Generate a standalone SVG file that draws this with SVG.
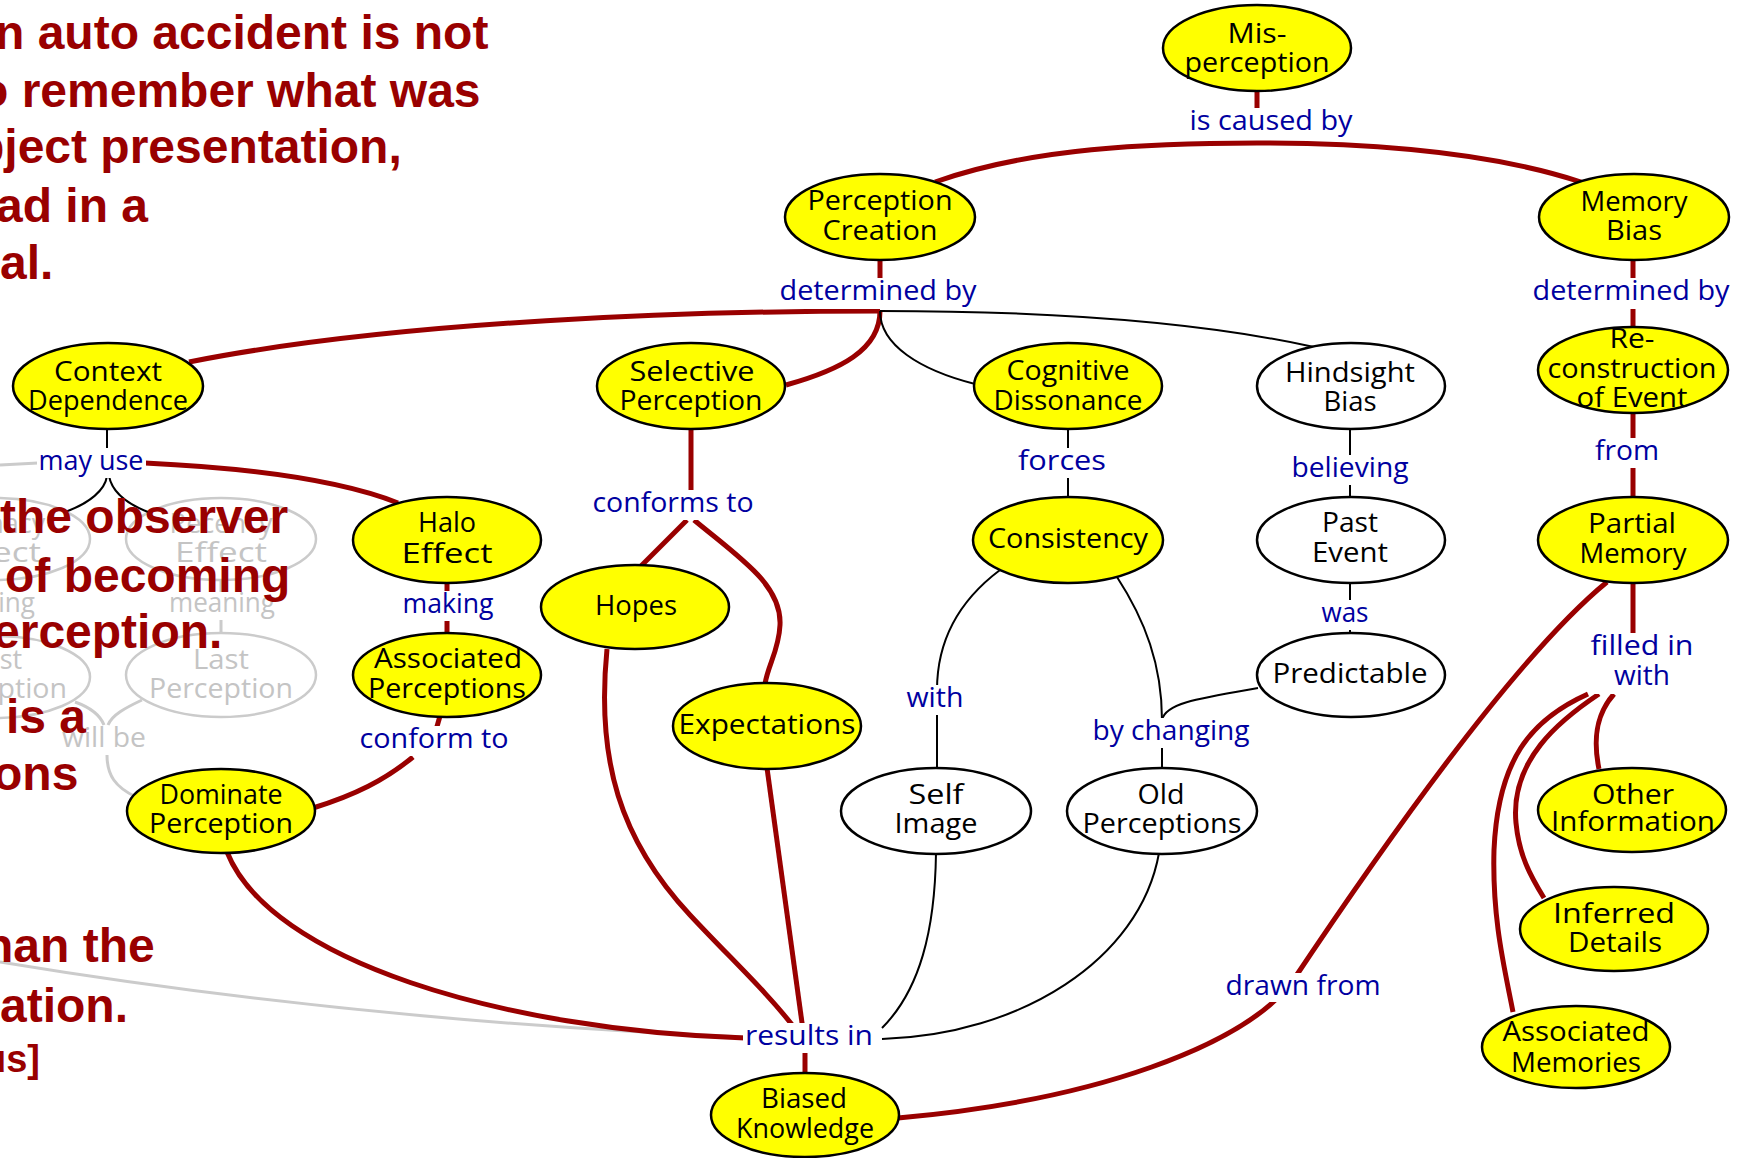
<svg xmlns="http://www.w3.org/2000/svg" width="1739" height="1158" viewBox="0 0 1739 1158">
<style>
.ny{fill:#ffff00;stroke:#000;stroke-width:2.5}
.nw{fill:#fff;stroke:#000;stroke-width:2.5}
.ng{fill:#fff;stroke:#cbcbcb;stroke-width:2.5}
.nt{font-family:'Open Sans','DejaVu Sans',sans-serif;font-size:27px;fill:#000;text-anchor:middle}
.gt{font-family:'Open Sans','DejaVu Sans',sans-serif;font-size:27px;fill:#c4c4c4;text-anchor:middle}
.lt{font-family:'Open Sans','DejaVu Sans',sans-serif;font-size:27px;fill:#0000a0;text-anchor:middle}
.lb{fill:#fff}
.r{fill:none;stroke:#990000;stroke-width:5}
.k{fill:none;stroke:#000;stroke-width:2}
.gl{fill:none;stroke:#cbcbcb;stroke-width:3}
.big{font-family:'Liberation Sans',Arial,sans-serif;font-weight:bold;font-size:48px;fill:#990000}
</style>

<!-- ghost (faded) part of map -->
<g id="ghost">
  <path class="gl" d="M0,465 L38,463"/>
  <path class="gl" d="M0,962 C200,995 450,1025 745,1037"/>
  <path class="gl" d="M-5,580 L-5,633 M221,580 L221,633"/>
  <path class="gl" d="M75,702 C92,708 100,715 104,725 M142,700 C125,708 112,715 108,725"/>
  <path class="gl" d="M107,755 C107,775 115,787 136,797"/>
  <g id="ghost-primacy"><ellipse class="ng" cx="-5" cy="539" rx="95" ry="41"/><text class="gt" x="-5" y="533">Primacy</text><text class="gt" x="-5" y="562" textLength="92" lengthAdjust="spacingAndGlyphs">Effect</text></g>
  <g id="ghost-recency"><ellipse class="ng" cx="221" cy="539" rx="95" ry="41"/><text class="gt" x="221" y="533">Recency</text><text class="gt" x="221" y="562" textLength="92" lengthAdjust="spacingAndGlyphs">Effect</text></g>
  <g id="ghost-first"><ellipse class="ng" cx="-5" cy="677" rx="95" ry="41"/><text class="gt" x="-5" y="669">First</text><text class="gt" x="-5" y="698" textLength="144" lengthAdjust="spacingAndGlyphs">Perception</text></g>
  <g id="ghost-last"><ellipse class="ng" cx="221" cy="675" rx="95" ry="42"/><text class="gt" x="221" y="669" textLength="56" lengthAdjust="spacingAndGlyphs">Last</text><text class="gt" x="221" y="698" textLength="144" lengthAdjust="spacingAndGlyphs">Perception</text></g>
  <rect class="lb" x="167" y="592" width="110" height="28"/>
  <text class="gt" x="222" y="612" textLength="106" lengthAdjust="spacingAndGlyphs">meaning</text>
  <rect class="lb" x="-73" y="592" width="110" height="28"/>
  <text class="gt" x="-18" y="612" textLength="106" lengthAdjust="spacingAndGlyphs">meaning</text>
  <text class="gt" x="104" y="747" textLength="84" lengthAdjust="spacingAndGlyphs">will be</text>
</g>

<!-- connectors -->
<g id="connectors">
  <path class="r" d="M1257,91 L1257,110"/>
  <path class="r" d="M935,182 C1030,148 1150,143 1257,143 C1370,143 1490,152 1581,182"/>
  <path class="r" d="M880,258 L880,290"/>
  <path class="r" d="M880,311 C700,311 400,320 189,362"/>
  <path class="r" d="M880,311 C880,350 840,370 786,385"/>
  <path class="k" d="M880,311 C880,345 920,370 975,384"/>
  <path class="k" d="M880,311 C1050,311 1200,322 1314,347"/>
  <path class="r" d="M1633,258 L1633,330"/>
  <path class="r" d="M1633,411 L1633,499"/>
  <path class="r" d="M1633,581 L1633,640"/>
  <path class="r" d="M1614,694 C1598,712 1592,735 1599,769"/>
  <path class="r" d="M1599,694 C1560,720 1510,760 1516,823 C1519,855 1530,875 1544,898"/>
  <path class="r" d="M1588,694 C1530,720 1498,760 1494,850 C1492,920 1505,970 1513,1012"/>
  <path class="r" d="M1607,582 C1530,645 1420,790 1290,985 C1240,1045 1100,1100 898,1118"/>
  <path class="k" d="M107,428 L107,450"/>
  <path class="r" d="M145,463 C250,468 340,480 398,503"/>
  <path class="k" d="M107,476 C105,490 90,503 65,512"/>
  <path class="k" d="M109,476 C112,492 125,503 148,512"/>
  <path class="r" d="M691,428 L691,495"/>
  <path class="r" d="M687,520 L641,566"/>
  <path class="r" d="M694,520 C740,558 782,585 780,625 C779,650 768,665 765,684"/>
  <path class="r" d="M447,582 L447,634"/>
  <path class="r" d="M440,716 L436,730"/>
  <path class="r" d="M413,757 C385,780 355,795 313,808"/>
  <path class="r" d="M227,852 C270,960 500,1030 745,1038"/>
  <path class="r" d="M607,649 C596,760 620,840 690,915 C730,958 770,995 796,1030"/>
  <path class="r" d="M767,768 L803,1030"/>
  <path class="r" d="M805,1045 L805,1074"/>
  <path class="k" d="M1068,428 L1068,498"/>
  <path class="k" d="M1000,570 C960,600 937,640 937,690 L937,769"/>
  <path class="k" d="M1117,577 C1145,620 1162,665 1162,720 L1162,769"/>
  <path class="k" d="M1258,688 C1200,698 1165,703 1162,720"/>
  <path class="k" d="M1350,428 L1350,498"/>
  <path class="k" d="M1350,582 L1350,634"/>
  <path class="k" d="M936,853 C935,930 920,990 882,1028"/>
  <path class="k" d="M1159,853 C1140,960 1020,1035 882,1039"/>
</g>

<!-- link labels -->
<g id="labels">
  <rect class="lb" x="1188" y="108" width="167" height="31"/>
  <text class="lt" x="1271" y="130" textLength="163" lengthAdjust="spacingAndGlyphs">is caused by</text>
  <rect class="lb" x="778" y="278" width="201" height="31"/>
  <text class="lt" x="878" y="300" textLength="197" lengthAdjust="spacingAndGlyphs">determined by</text>
  <rect class="lb" x="1531" y="278" width="201" height="31"/>
  <text class="lt" x="1631" y="300" textLength="197" lengthAdjust="spacingAndGlyphs">determined by</text>
  <rect class="lb" x="37" y="448" width="109" height="30"/>
  <text class="lt" x="91" y="470" textLength="105" lengthAdjust="spacingAndGlyphs">may use</text>
  <rect class="lb" x="591" y="490" width="165" height="30"/>
  <text class="lt" x="673" y="512" textLength="161" lengthAdjust="spacingAndGlyphs">conforms to</text>
  <rect class="lb" x="1016" y="448" width="92" height="30"/>
  <text class="lt" x="1062" y="470" textLength="88" lengthAdjust="spacingAndGlyphs">forces</text>
  <rect class="lb" x="1290" y="455" width="121" height="30"/>
  <text class="lt" x="1350" y="477" textLength="117" lengthAdjust="spacingAndGlyphs">believing</text>
  <rect class="lb" x="1593" y="438" width="68" height="30"/>
  <text class="lt" x="1627" y="460" textLength="64" lengthAdjust="spacingAndGlyphs">from</text>
  <rect class="lb" x="401" y="591" width="95" height="30"/>
  <text class="lt" x="448" y="613" textLength="91" lengthAdjust="spacingAndGlyphs">making</text>
  <rect class="lb" x="1320" y="600" width="51" height="30"/>
  <text class="lt" x="1345" y="622" textLength="47" lengthAdjust="spacingAndGlyphs">was</text>
  <rect class="lb" x="1589" y="633" width="107" height="61"/>
  <text class="lt" x="1642" y="655" textLength="103" lengthAdjust="spacingAndGlyphs">filled in</text>
  <text class="lt" x="1642" y="685" textLength="56" lengthAdjust="spacingAndGlyphs">with</text>
  <rect class="lb" x="905" y="685" width="61" height="30"/>
  <text class="lt" x="935" y="707" textLength="57" lengthAdjust="spacingAndGlyphs">with</text>
  <rect class="lb" x="1091" y="718" width="161" height="30"/>
  <text class="lt" x="1171" y="740" textLength="157" lengthAdjust="spacingAndGlyphs">by changing</text>
  <rect class="lb" x="358" y="726" width="153" height="30"/>
  <text class="lt" x="434" y="748" textLength="149" lengthAdjust="spacingAndGlyphs">conform to</text>
  <rect class="lb" x="1224" y="973" width="159" height="29"/>
  <text class="lt" x="1303" y="995" textLength="155" lengthAdjust="spacingAndGlyphs">drawn from</text>
  <rect class="lb" x="743" y="1023" width="132" height="30"/>
  <text class="lt" x="809" y="1045" textLength="128" lengthAdjust="spacingAndGlyphs">results in</text>
</g>

<!-- nodes -->
<g id="misperception"><ellipse class="ny" cx="1257" cy="48" rx="94" ry="43"/><text class="nt" x="1257" y="43" textLength="59" lengthAdjust="spacingAndGlyphs">Mis-</text><text class="nt" x="1257" y="72" textLength="145" lengthAdjust="spacingAndGlyphs">perception</text></g>
<g id="perception-creation"><ellipse class="ny" cx="880" cy="217" rx="95" ry="43"/><text class="nt" x="880" y="210" textLength="145" lengthAdjust="spacingAndGlyphs">Perception</text><text class="nt" x="880" y="240" textLength="115" lengthAdjust="spacingAndGlyphs">Creation</text></g>
<g id="memory-bias"><ellipse class="ny" cx="1634" cy="217" rx="95" ry="43"/><text class="nt" x="1634" y="211" textLength="107" lengthAdjust="spacingAndGlyphs">Memory</text><text class="nt" x="1634" y="240" textLength="56" lengthAdjust="spacingAndGlyphs">Bias</text></g>
<g id="context-dependence"><ellipse class="ny" cx="108" cy="386" rx="95" ry="43"/><text class="nt" x="108" y="381" textLength="108" lengthAdjust="spacingAndGlyphs">Context</text><text class="nt" x="108" y="410" textLength="160" lengthAdjust="spacingAndGlyphs">Dependence</text></g>
<g id="selective-perception"><ellipse class="ny" cx="691" cy="386" rx="94" ry="43"/><text class="nt" x="692" y="381" textLength="125" lengthAdjust="spacingAndGlyphs">Selective</text><text class="nt" x="691" y="410" textLength="143" lengthAdjust="spacingAndGlyphs">Perception</text></g>
<g id="cognitive-dissonance"><ellipse class="ny" cx="1068" cy="386" rx="94" ry="43"/><text class="nt" x="1068" y="380" textLength="123" lengthAdjust="spacingAndGlyphs">Cognitive</text><text class="nt" x="1068" y="410" textLength="149" lengthAdjust="spacingAndGlyphs">Dissonance</text></g>
<g id="hindsight-bias"><ellipse class="nw" cx="1351" cy="386" rx="94" ry="43"/><text class="nt" x="1350" y="382" textLength="130" lengthAdjust="spacingAndGlyphs">Hindsight</text><text class="nt" x="1350" y="411" textLength="53" lengthAdjust="spacingAndGlyphs">Bias</text></g>
<g id="reconstruction-of-event"><ellipse class="ny" cx="1633" cy="370" rx="95" ry="43"/><text class="nt" x="1632" y="348" textLength="45" lengthAdjust="spacingAndGlyphs">Re-</text><text class="nt" x="1632" y="378" textLength="169" lengthAdjust="spacingAndGlyphs">construction</text><text class="nt" x="1632" y="407" textLength="111" lengthAdjust="spacingAndGlyphs">of Event</text></g>
<g id="halo-effect"><ellipse class="ny" cx="447" cy="540" rx="94" ry="43"/><text class="nt" x="447" y="532" textLength="58" lengthAdjust="spacingAndGlyphs">Halo</text><text class="nt" x="447" y="563" textLength="91" lengthAdjust="spacingAndGlyphs">Effect</text></g>
<g id="associated-perceptions"><ellipse class="ny" cx="447" cy="675" rx="94" ry="42"/><text class="nt" x="448" y="668" textLength="148" lengthAdjust="spacingAndGlyphs">Associated</text><text class="nt" x="447" y="698" textLength="158" lengthAdjust="spacingAndGlyphs">Perceptions</text></g>
<g id="hopes"><ellipse class="ny" cx="635" cy="607" rx="94" ry="42"/><text class="nt" x="636" y="615" textLength="82" lengthAdjust="spacingAndGlyphs">Hopes</text></g>
<g id="expectations"><ellipse class="ny" cx="767" cy="726" rx="94" ry="43"/><text class="nt" x="767" y="734" textLength="177" lengthAdjust="spacingAndGlyphs">Expectations</text></g>
<g id="consistency"><ellipse class="ny" cx="1068" cy="540" rx="95" ry="43"/><text class="nt" x="1068" y="548" textLength="160" lengthAdjust="spacingAndGlyphs">Consistency</text></g>
<g id="self-image"><ellipse class="nw" cx="936" cy="811" rx="95" ry="43"/><text class="nt" x="936" y="804" textLength="55" lengthAdjust="spacingAndGlyphs">Self</text><text class="nt" x="936" y="833" textLength="83" lengthAdjust="spacingAndGlyphs">Image</text></g>
<g id="old-perceptions"><ellipse class="nw" cx="1162" cy="811" rx="95" ry="43"/><text class="nt" x="1161" y="804" textLength="47" lengthAdjust="spacingAndGlyphs">Old</text><text class="nt" x="1162" y="833" textLength="159" lengthAdjust="spacingAndGlyphs">Perceptions</text></g>
<g id="past-event"><ellipse class="nw" cx="1351" cy="540" rx="94" ry="43"/><text class="nt" x="1350" y="532" textLength="56" lengthAdjust="spacingAndGlyphs">Past</text><text class="nt" x="1350" y="562" textLength="76" lengthAdjust="spacingAndGlyphs">Event</text></g>
<g id="predictable"><ellipse class="nw" cx="1351" cy="675" rx="94" ry="42"/><text class="nt" x="1350" y="683" textLength="155" lengthAdjust="spacingAndGlyphs">Predictable</text></g>
<g id="partial-memory"><ellipse class="ny" cx="1633" cy="540" rx="95" ry="43"/><text class="nt" x="1632" y="533" textLength="88" lengthAdjust="spacingAndGlyphs">Partial</text><text class="nt" x="1633" y="563" textLength="107" lengthAdjust="spacingAndGlyphs">Memory</text></g>
<g id="other-information"><ellipse class="ny" cx="1632" cy="810" rx="94" ry="42"/><text class="nt" x="1633" y="804" textLength="82" lengthAdjust="spacingAndGlyphs">Other</text><text class="nt" x="1633" y="831" textLength="164" lengthAdjust="spacingAndGlyphs">Information</text></g>
<g id="inferred-details"><ellipse class="ny" cx="1614" cy="929" rx="94" ry="42"/><text class="nt" x="1614" y="923" textLength="122" lengthAdjust="spacingAndGlyphs">Inferred</text><text class="nt" x="1615" y="952" textLength="94" lengthAdjust="spacingAndGlyphs">Details</text></g>
<g id="associated-memories"><ellipse class="ny" cx="1576" cy="1047" rx="94" ry="41"/><text class="nt" x="1576" y="1041" textLength="147" lengthAdjust="spacingAndGlyphs">Associated</text><text class="nt" x="1576" y="1072" textLength="130" lengthAdjust="spacingAndGlyphs">Memories</text></g>
<g id="dominate-perception"><ellipse class="ny" cx="221" cy="811" rx="94" ry="42"/><text class="nt" x="221" y="804" textLength="123" lengthAdjust="spacingAndGlyphs">Dominate</text><text class="nt" x="221" y="833" textLength="144" lengthAdjust="spacingAndGlyphs">Perception</text></g>
<g id="biased-knowledge"><ellipse class="ny" cx="805" cy="1115" rx="94" ry="42"/><text class="nt" x="804" y="1108" textLength="86" lengthAdjust="spacingAndGlyphs">Biased</text><text class="nt" x="805" y="1138" textLength="138" lengthAdjust="spacingAndGlyphs">Knowledge</text></g>

<!-- overlay text -->
<g id="overlay-text">
  <text class="big" x="-5" y="49">n auto accident is not</text>
  <text class="big" x="-21" y="107">o remember what was</text>
  <text class="big" x="-25" y="163">bject presentation,</text>
  <text class="big" x="-4" y="222">ad in a</text>
  <text class="big" x="0" y="279">al.</text>
  <text class="big" x="0" y="533">the observer</text>
  <text class="big" x="5" y="592">of becoming</text>
  <text class="big" x="-7" y="648">erception.</text>
  <text class="big" x="6" y="733">is a</text>
  <text class="big" x="-7" y="790">ons</text>
  <text class="big" x="-16" y="962">han the</text>
  <text class="big" x="0" y="1022">ation.</text>
  <text class="big" x="-17" y="1072" style="font-size:38px">us]</text>
</g>
</svg>
